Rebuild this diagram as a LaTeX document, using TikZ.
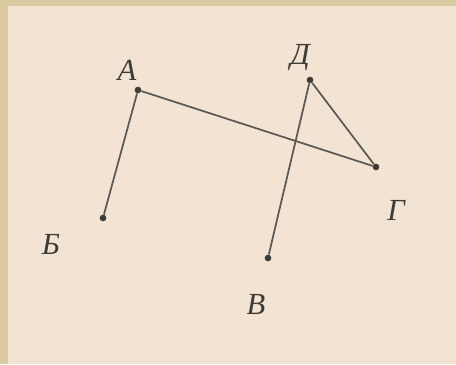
\documentclass[tikz,border=0pt]{standalone}
\usepackage{fontspec}
\setmainfont{Liberation Serif}
\usepackage{xcolor}
\usetikzlibrary{calc}
\definecolor{paper}{HTML}{F3E3D2}
\definecolor{frame}{HTML}{DCCBA2}
\definecolor{ink}{HTML}{3C3C38}

\begin{document}
\begin{tikzpicture}[
    x=0.75pt, y=-0.75pt,
    every node/.style={font=\fontsize{23}{24}\selectfont\itshape, text=ink},
    seg/.style={draw=ink!85, line width=1.3pt},
    dot/.style={circle, fill=ink, inner sep=0pt, minimum size=5pt},
  ]
  % --- background
  \fill[frame] (0,0) rectangle (456,364);
  \fill[paper] (8,6) rectangle (456,364);
  \useasboundingbox (0,0) rectangle (456,364);
  % --- points
  \node[dot] (A) at (138,90)  {};
  \node[dot] (B) at (103,218) {};
  \node[dot] (V) at (268,258) {};
  \node[dot] (G) at (376,167) {};
  \node[dot] (D) at (310,80)  {};
  % --- labels
  \node (la) at (127,70)  {А};
  \node (lb) at (51,244)  {Б};
  \node (lv) at (256,304) {В};
  \node (lg) at (396,210) {Г};
  \node (ld) at (300,58)  {Д};
  % --- segments
  \draw[seg] (A) -- (B);
  \draw[seg] (A) -- (G);
  \draw[seg] (D) -- (G);
  \draw[seg] (D) -- (V);
\end{tikzpicture}
\end{document}
